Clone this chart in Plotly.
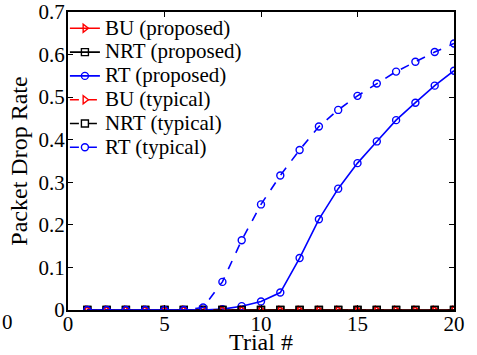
import plotly.graph_objects as go

trials = list(range(1, 21))
bu_proposed = [0.0] * 20
nrt_proposed = [0.0] * 20
rt_proposed = [0, 0, 0, 0, 0, 0, 0, 0.002, 0.009, 0.020, 0.041, 0.122, 0.213, 0.285,
               0.345, 0.396, 0.446, 0.487, 0.527, 0.562]
bu_typical = [0.0] * 20
nrt_typical = [0.0] * 20
rt_typical = [0, 0, 0, 0, 0, 0, 0.006, 0.066, 0.164, 0.248, 0.316, 0.376, 0.431, 0.470,
              0.503, 0.532, 0.560, 0.583, 0.606, 0.626]

x_ticks = [0, 5, 10, 15, 20]
y_ticks = [0, 0.1, 0.2, 0.3, 0.4, 0.5, 0.6, 0.7]
y_tick_labels = ["0", "0.1", "0.2", "0.3", "0.4", "0.5", "0.6", "0.7"]

series = [
    ("BU (proposed)", bu_proposed, "red", "solid", "triangle-right-open"),
    ("NRT (proposed)", nrt_proposed, "black", "solid", "square-open"),
    ("RT (proposed)", rt_proposed, "blue", "solid", "circle-open"),
    ("BU (typical)", bu_typical, "red", "dash", "triangle-right-open"),
    ("NRT (typical)", nrt_typical, "black", "dash", "square-open"),
    ("RT (typical)", rt_typical, "blue", "dash", "circle-open"),
]

fig = go.Figure()
for name, vals, color, dash, sym in series:
    fig.add_trace(go.Scatter(
        x=trials, y=vals,
        name='<span style="font-size:21px">' + name + '</span>',
        mode="lines+markers",
        line=dict(color=color, width=1.6, dash=dash),
        marker=dict(symbol=sym, size=7, color=color, line=dict(width=1.4, color=color)),
    ))

font = "Liberation Serif, Times New Roman, serif"
fig.update_layout(
    width=477, height=355,
    margin=dict(l=68, r=23, t=12, b=45, autoexpand=False),
    paper_bgcolor="white", plot_bgcolor="white",
    font=dict(family=font, size=21, color="black"),
    showlegend=True,
    legend=dict(x=-0.008, y=1.002, xanchor="left", yanchor="top",
                bgcolor="rgba(0,0,0,0)", borderwidth=0,
                font=dict(family=font, size=16, color="black"),
                tracegroupgap=0, itemwidth=30),
    xaxis=dict(range=[0, 20], tickvals=x_ticks, ticks="inside", ticklen=5,
               showgrid=False, zeroline=False, showline=True, linecolor="black",
               linewidth=2, mirror="ticks", tickcolor="black", automargin=False,
               ticklabelstandoff=-6,
               tickfont=dict(family=font, size=21),
               title=dict(text="Trial #", font=dict(family=font, size=24), standoff=3)),
    yaxis=dict(range=[0, 0.7], tickvals=y_ticks, ticktext=y_tick_labels, ticks="inside",
               ticklen=5, showgrid=False, zeroline=False, showline=True,
               linecolor="black", linewidth=2, mirror="ticks", tickcolor="black",
               automargin=False, ticklabelstandoff=-3,
               tickfont=dict(family=font, size=21),
               title=dict(text="Packet Drop Rate", font=dict(family=font, size=24), standoff=4)),
)
fig.add_annotation(text="0", xref="paper", yref="paper", x=-0.176, y=-0.04,
                   xanchor="left", yanchor="middle", showarrow=False,
                   font=dict(family=font, size=21, color="black"))

fig.write_html("out.html")
